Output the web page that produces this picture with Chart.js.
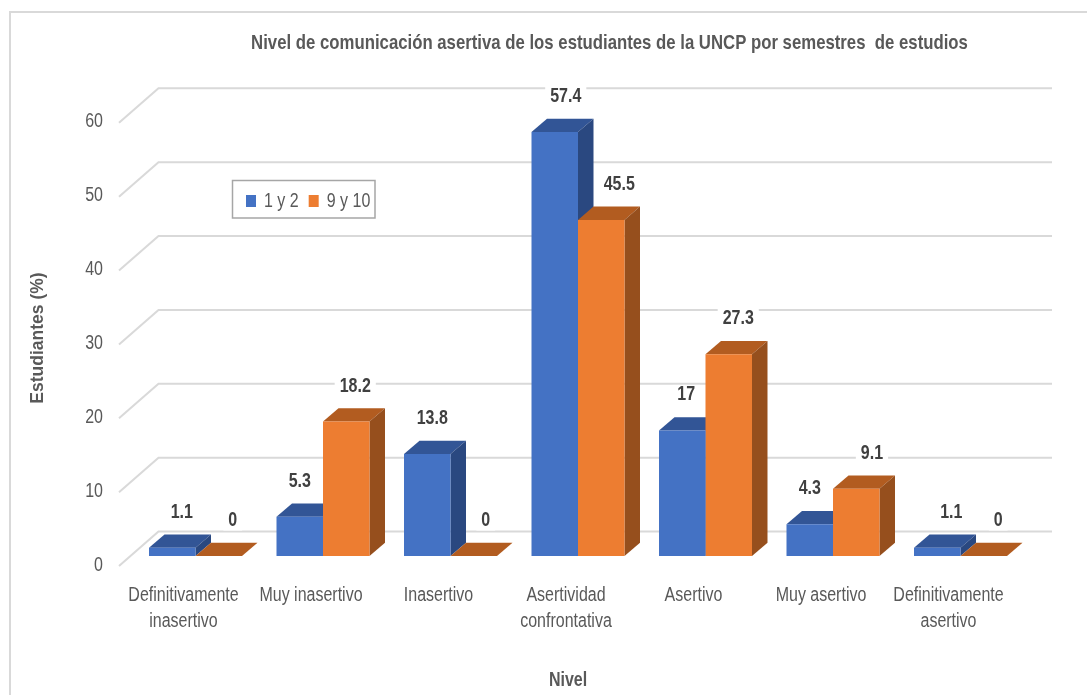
<!DOCTYPE html>
<html>
<head>
<meta charset="utf-8">
<script src="https://cdn.jsdelivr.net/npm/chart.js@4"></script>
<style>html,body{margin:0;padding:0;background:#fff}canvas{display:block}</style>
</head>
<body>
<canvas id="c" width="1087" height="695"></canvas>
<script>
const categories = [["Definitivamente","inasertivo"],"Muy inasertivo","Inasertivo",["Asertividad","confrontativa"],"Asertivo","Muy asertivo",["Definitivamente","asertivo"]];
const seriesA = [1.1,5.3,13.8,57.4,17,4.3,1.1];
const seriesB = [0,18.2,0,45.5,27.3,9.1,0];
const seriesNames = ["1 y 2","9 y 10"];
const chartTitle = "Nivel de comunicación asertiva de los estudiantes de la UNCP por semestres  de estudios";
const xTitle = "Nivel";
const yTitle = "Estudiantes (%)";

const FONT = "'Liberation Sans', Arial, sans-serif";
const faceColors = [{top:"#325596",side:"#2A4880"},{top:"#B25C20",side:"#964F1D"}];
const labelNudgeX = [[9.5,0,5,11,4,0,14],[14,9,12,18,9.5,15.7,14.5]];
const TEXT_STRETCH = 1.25;

const canvas = document.getElementById("c");
const ctx2d = canvas.getContext("2d");
const rawFillText = ctx2d.fillText.bind(ctx2d);
ctx2d.fillText = function(t,x,y,m){
  ctx2d.save();
  ctx2d.translate(x,y);
  ctx2d.scale(1,TEXT_STRETCH);
  if (m === undefined) rawFillText(t,0,0); else rawFillText(t,0,0,m);
  ctx2d.restore();
};

const threeD = {
  id:"threeD",
  beforeDraw(chart){
    const c = chart.ctx, t = chart.titleBlock, l = chart.legend;
    t.left = 132; t.right = 1087;
    const w = l.width;
    l.left = 236; l.right = 236 + w; l.top = 183; l.bottom = 183 + l.height;
    c.save();
    c.fillStyle = "#fff"; c.fillRect(0,0,chart.width,chart.height);
    c.strokeStyle = "#d9d9d9"; c.lineWidth = 2;
    c.beginPath(); c.moveTo(10,695); c.lineTo(10,12); c.lineTo(1087,12); c.stroke();
    const y = chart.scales.y;
    y.ticks.forEach(tk=>{
      const p = y.getPixelForValue(tk.value);
      c.beginPath(); c.moveTo(119,p+10); c.lineTo(158.5,p-24.5); c.lineTo(1052,p-24.5); c.stroke();
    });
    c.restore();
  },
  beforeDatasetsDraw(chart){
    const c = chart.ctx, dx = 15.5, dy = 13.3;
    c.save();
    chart.data.labels.forEach((_,i)=>{
      [0,1].forEach(ds=>{
        const b = chart.getDatasetMeta(ds).data[i];
        const l = b.x - b.width/2, r = b.x + b.width/2, tp = b.y, bt = b.base;
        c.fillStyle = faceColors[ds].top;
        c.beginPath(); c.moveTo(l,tp); c.lineTo(r,tp); c.lineTo(r+dx,tp-dy); c.lineTo(l+dx,tp-dy); c.closePath(); c.fill();
        if (bt - tp > 0.5){
          c.fillStyle = faceColors[ds].side;
          c.beginPath(); c.moveTo(r,tp); c.lineTo(r+dx,tp-dy); c.lineTo(r+dx,bt-dy); c.lineTo(r,bt); c.closePath(); c.fill();
        }
      });
    });
    c.restore();
  },
  afterDatasetsDraw(chart){
    const c = chart.ctx;
    c.save();
    c.textAlign = "center"; c.textBaseline = "middle";
    c.font = "bold 16px " + FONT;
    [0,1].forEach(ds=>{
      chart.getDatasetMeta(ds).data.forEach((b,i)=>{
        const txt = String(chart.data.datasets[ds].data[i]);
        const x = b.x + labelNudgeX[ds][i], y = b.y - 35.5;
        const w = c.measureText(txt).width + 10;
        c.fillStyle = "#fff"; c.fillRect(x-w/2,y-10,w,20);
        c.fillStyle = "#404040"; c.fillText(txt,x,y);
      });
    });
    c.restore();
  },
  afterDraw(chart){
    const c = chart.ctx;
    c.save();
    c.strokeStyle = "#a6a6a6"; c.lineWidth = 1.5;
    c.strokeRect(232.5,180.5,142.5,37.5);
    c.fillStyle = "#595959"; c.textAlign = "center"; c.textBaseline = "middle";
    c.font = "bold 16px " + FONT;
    c.fillText(xTitle,568,680);
    c.translate(38,338); c.rotate(-Math.PI/2);
    c.font = "bold 17.5px " + FONT;
    rawFillText(yTitle,0,0);
    c.restore();
  }
};

new Chart(canvas,{
  type:"bar",
  data:{labels:categories,datasets:[
    {label:seriesNames[0],data:seriesA,backgroundColor:"#4472C4"},
    {label:seriesNames[1],data:seriesB,backgroundColor:"#ED7D31"}
  ]},
  plugins:[threeD],
  options:{
    responsive:false,
    animation:false,
    layout:{padding:{left:0,right:62.75,top:0,bottom:0}},
    datasets:{bar:{categoryPercentage:0.7294,barPercentage:1}},
    plugins:{
      title:{display:true,text:chartTitle,color:"#595959",font:{family:FONT,size:16.75,weight:"bold",lineHeight:1.2},padding:{top:33,bottom:23.7}},
      legend:{position:"top",align:"start",labels:{boxWidth:10,boxHeight:12,padding:10,color:"#595959",font:{family:FONT,size:16}}},
      tooltip:{enabled:false}
    },
    scales:{
      x:{
        grid:{display:false},border:{display:false},
        afterFit(s){s.height=139;},
        ticks:{color:"#595959",font:{family:FONT,size:16,lineHeight:1.625},padding:18,labelOffset:-12,maxRotation:0,minRotation:0,autoSkip:false}
      },
      y:{
        min:0,max:60,
        grid:{display:false},border:{display:false},
        afterFit(s){s.width=131.75;},
        ticks:{stepSize:10,color:"#595959",font:{family:FONT,size:16},padding:20.75,labelOffset:9}
      }
    }
  }
});
</script>
</body>
</html>
